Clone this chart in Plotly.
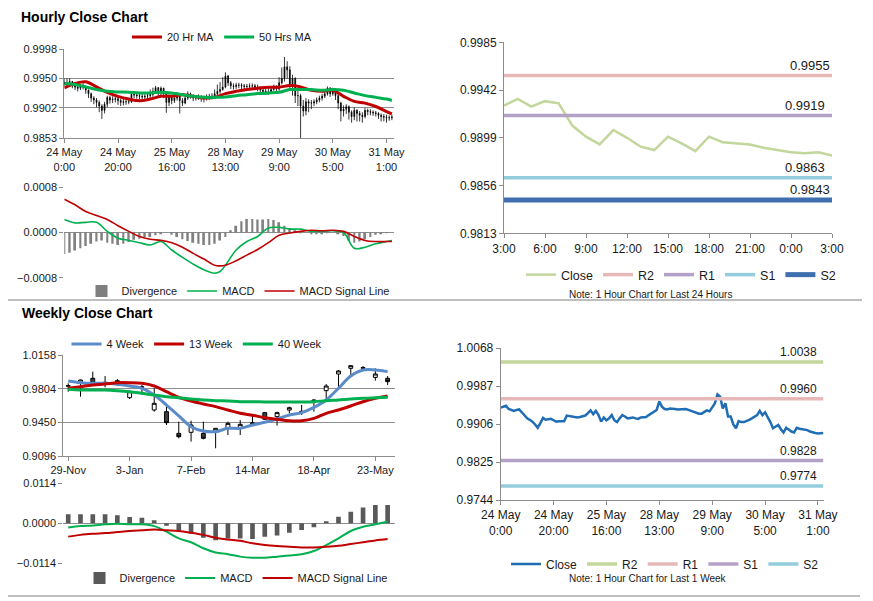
import plotly.graph_objects as go

# --- hourly data (24 May 0:00 -> 31 May 3:00, hour index) ---
hour_ticks = [0, 20, 40, 60, 80, 100, 120]
hour_labels = ["24 May<br>0:00", "24 May<br>20:00", "25 May<br>16:00", "28 May<br>13:00",
               "29 May<br>9:00", "30 May<br>5:00", "31 May<br>1:00"]

hourly_close = [
    0.9941, 0.9943, 0.9945, 0.9938, 0.9936, 0.9934, 0.9936, 0.9937, 0.9931, 0.9925,
    0.9918, 0.9915, 0.9911, 0.9905, 0.9898, 0.9908, 0.9919, 0.9915, 0.9916, 0.9917,
    0.9914, 0.9911, 0.9912, 0.9912, 0.9912, 0.9924, 0.9923, 0.9922, 0.9921, 0.9920,
    0.9921, 0.9922, 0.9924, 0.9929, 0.9935, 0.9927, 0.9934, 0.9925, 0.9911, 0.9920,
    0.9914, 0.9918, 0.9925, 0.9914, 0.9910, 0.9918, 0.9925, 0.9922, 0.9918, 0.9919,
    0.9920, 0.9918, 0.9917, 0.9920, 0.9921, 0.9921, 0.9925, 0.9929, 0.9932, 0.9936,
    0.9954, 0.9943, 0.9938, 0.9937, 0.9939, 0.9939, 0.9938, 0.9937, 0.9937, 0.9938,
    0.9938, 0.9936, 0.9934, 0.9931, 0.9929, 0.9928, 0.9928, 0.9932, 0.9935, 0.9933,
    0.9943, 0.9950, 0.9969, 0.9964, 0.9939, 0.9950, 0.9922, 0.9922, 0.9905, 0.9897,
    0.9912, 0.9910, 0.9910, 0.9912, 0.9915, 0.9918, 0.9921, 0.9925, 0.9934, 0.9925,
    0.9931, 0.9922, 0.9910, 0.9897, 0.9900, 0.9904, 0.9895, 0.9888, 0.9898, 0.9893,
    0.9890, 0.9888, 0.9898, 0.9896, 0.9895, 0.9894, 0.9893, 0.9890, 0.9888, 0.9887,
    0.9886, 0.9886, 0.9887,
]
hourly_high = [
    0.9950, 0.9950, 0.9950, 0.9946, 0.9942, 0.9940, 0.9941, 0.9942, 0.9938, 0.9932,
    0.9927, 0.9921, 0.9918, 0.9914, 0.9908, 0.9912, 0.9922, 0.9922, 0.9921, 0.9921,
    0.9920, 0.9917, 0.9917, 0.9916, 0.9918, 0.9927, 0.9928, 0.9927, 0.9926, 0.9925,
    0.9926, 0.9928, 0.9932, 0.9935, 0.9938, 0.9936, 0.9937, 0.9935, 0.9927, 0.9924,
    0.9922, 0.9921, 0.9928, 0.9926, 0.9918, 0.9922, 0.9929, 0.9927, 0.9924, 0.9923,
    0.9924, 0.9923, 0.9922, 0.9924, 0.9925, 0.9926, 0.9932, 0.9940, 0.9944, 0.9952,
    0.9960, 0.9956, 0.9946, 0.9942, 0.9943, 0.9943, 0.9942, 0.9941, 0.9941, 0.9942,
    0.9942, 0.9941, 0.9940, 0.9937, 0.9934, 0.9933, 0.9934, 0.9937, 0.9940, 0.9939,
    0.9952, 0.9968, 0.9985, 0.9978, 0.9970, 0.9956, 0.9952, 0.9930, 0.9925, 0.9915,
    0.9918, 0.9916, 0.9915, 0.9916, 0.9919, 0.9922, 0.9925, 0.9930, 0.9937, 0.9936,
    0.9935, 0.9934, 0.9925, 0.9912, 0.9906, 0.9908, 0.9906, 0.9898, 0.9903, 0.9900,
    0.9897, 0.9895, 0.9902, 0.9901, 0.9900, 0.9898, 0.9897, 0.9895, 0.9893, 0.9892,
    0.9891, 0.9890, 0.9891,
]
hourly_low = [
    0.9937, 0.9938, 0.9940, 0.9934, 0.9931, 0.9929, 0.9931, 0.9932, 0.9925, 0.9918,
    0.9912, 0.9908, 0.9903, 0.9895, 0.9884, 0.9893, 0.9903, 0.9909, 0.9910, 0.9911,
    0.9907, 0.9905, 0.9906, 0.9907, 0.9908, 0.9910, 0.9918, 0.9917, 0.9916, 0.9915,
    0.9916, 0.9917, 0.9918, 0.9920, 0.9925, 0.9922, 0.9922, 0.9918, 0.9894, 0.9905,
    0.9908, 0.9910, 0.9914, 0.9893, 0.9905, 0.9908, 0.9915, 0.9917, 0.9913, 0.9914,
    0.9915, 0.9912, 0.9911, 0.9914, 0.9915, 0.9916, 0.9918, 0.9922, 0.9925, 0.9930,
    0.9934, 0.9938, 0.9933, 0.9932, 0.9933, 0.9934, 0.9933, 0.9932, 0.9932, 0.9933,
    0.9933, 0.9931, 0.9929, 0.9926, 0.9924, 0.9923, 0.9923, 0.9926, 0.9930, 0.9928,
    0.9930, 0.9940, 0.9945, 0.9950, 0.9930, 0.9922, 0.9910, 0.9905, 0.9853, 0.9888,
    0.9890, 0.9895, 0.9900, 0.9905, 0.9908, 0.9911, 0.9914, 0.9918, 0.9922, 0.9920,
    0.9922, 0.9915, 0.9900, 0.9880, 0.9888, 0.9892, 0.9883, 0.9878, 0.9882, 0.9880,
    0.9880, 0.9878, 0.9885, 0.9890, 0.9890, 0.9889, 0.9888, 0.9884, 0.9880, 0.9880,
    0.9878, 0.9881, 0.9882,
]
hourly_open = [0.9944] + hourly_close[:-1]

ma_hours = [0, 4, 8, 12, 16, 20, 24, 28, 32, 36, 40, 44, 48, 52, 56, 60,
            64, 68, 72, 76, 80, 84, 88, 92, 96, 100, 104, 108, 112, 116, 120, 122]
ma20 = [0.99346, 0.99418, 0.99446, 0.99363, 0.99275, 0.99209, 0.99164, 0.99137,
        0.99164, 0.99209, 0.99209, 0.99236, 0.99209, 0.99181, 0.99192, 0.99253,
        0.99291, 0.99319, 0.99341, 0.99357, 0.99357, 0.99385, 0.99363, 0.99308,
        0.99291, 0.99308, 0.99209, 0.99126, 0.99098, 0.99043, 0.98961, 0.98922]
ma50 = [0.99418, 0.99401, 0.99363, 0.99319, 0.99291, 0.99280, 0.99275, 0.99264,
        0.99264, 0.99275, 0.99264, 0.99236, 0.99209, 0.99192, 0.99192, 0.99198,
        0.99220, 0.99236, 0.99253, 0.99264, 0.99275, 0.99319, 0.99319, 0.99319,
        0.99308, 0.99319, 0.99308, 0.99264, 0.99220, 0.99192, 0.99164, 0.99142]

macd_hours = [0, 4, 8, 12, 16, 20, 24, 28, 32, 36, 40, 44, 48, 52, 56, 58, 60,
              64, 68, 72, 76, 80, 84, 88, 92, 96, 100, 104, 108, 112, 116, 120, 122]
hourly_macd = [0.00023, 0.00017, 0.00018, 0.00018, 0.00002, -0.00010, -0.00014, -0.00018,
               -0.00022, -0.00016, -0.00031, -0.00044, -0.00056, -0.00066, -0.00072, -0.00069,
               -0.00058, -0.00031, -0.00016, -0.00007, 0.00008, 0.00009, 0.00006, 0.00006,
               0.00002, 0.00002, 0.00003, 0.00000, -0.00028, -0.00026, -0.00020, -0.00016, -0.00014]
hourly_signal = [0.00059, 0.00049, 0.00037, 0.00030, 0.00023, 0.00012, 0.00002, -0.00007,
                 -0.00012, -0.00014, -0.00018, -0.00026, -0.00037, -0.00047, -0.00058, -0.00059,
                 -0.00058, -0.00050, -0.00040, -0.00030, -0.00018, -0.00005, -0.00001, 0.00002,
                 0.00004, 0.00003, 0.00004, 0.00002, -0.00007, -0.00014, -0.00016, -0.00016, -0.00016]
div_hours = list(range(0, 123, 2))
hourly_div = [-0.00038, -0.00036, -0.00032, -0.00028, -0.00024, -0.00020, -0.00016, -0.00014,
              -0.00018, -0.00020, -0.00022, -0.00020, -0.00017, -0.00013, -0.00011, -0.00008,
              -0.00008, -0.00005, -0.00002, 0.00000, -0.00004, -0.00008, -0.00012, -0.00015,
              -0.00018, -0.00020, -0.00022, -0.00022, -0.00020, -0.00014, -0.00008, 0.00004,
              0.00012, 0.00020, 0.00024, 0.00024, 0.00023, 0.00023, 0.00024, 0.00022,
              0.00018, 0.00012, 0.00008, 0.00004, 0.00002, 0.00000, -0.00002, -0.00002,
              -0.00002, 0.00001, 0.00000, -0.00002, -0.00006, -0.00014, -0.00018, -0.00016,
              -0.00012, -0.00008, -0.00004, -0.00002, -0.00001, 0.00000]

# --- last 24 hours ---
day_ticks = [0, 3, 6, 9, 12, 15, 18, 21, 24]
day_labels = ["3:00", "6:00", "9:00", "12:00", "15:00", "18:00", "21:00", "0:00", "3:00"]
day_close = [0.9928, 0.9934, 0.9927, 0.9932, 0.9930, 0.9910, 0.9900, 0.9893, 0.9906,
             0.9899, 0.9891, 0.9888, 0.9900, 0.9894, 0.9887, 0.9900, 0.9895, 0.9894,
             0.9893, 0.9890, 0.9888, 0.9886, 0.9885, 0.9886, 0.9883]
day_levels = {"R2": 0.9955, "R1": 0.9919, "S1": 0.9863, "S2": 0.9843}
week_levels = {"R2": 1.0038, "R1": 0.9960, "S1": 0.9828, "S2": 0.9774}

# --- weekly data (29-Nov -> 30-May) ---
week_ticks = [0, 5, 10, 15, 20, 25]
week_labels = ["29-Nov", "3-Jan", "7-Feb", "14-Mar", "18-Apr", "23-May"]
weeks = list(range(27))
w_open = [0.9830, 0.9860, 0.9913, 0.9865, 0.9888, 0.9709, 0.9818, 0.9580, 0.9562, 0.9334,
          0.9345, 0.9334, 0.9352, 0.9387, 0.9394, 0.9436, 0.9552, 0.9510, 0.9579, 0.9562,
          0.9667, 0.9783, 0.9958, 1.0018, 1.0018, 0.9923, 0.9913]
w_high = [0.9860, 0.9900, 0.9983, 0.9937, 0.9905, 0.9785, 0.9843, 0.9808, 0.9643, 0.9457,
          0.9467, 0.9457, 0.9390, 0.9457, 0.9474, 0.9527, 0.9555, 0.9562, 0.9615, 0.9632,
          0.9692, 0.9853, 1.0000, 1.0048, 1.0042, 1.0018, 0.9937]
w_low = [0.9772, 0.9720, 0.9843, 0.9818, 0.9832, 0.9695, 0.9738, 0.9562, 0.9422, 0.9282,
         0.9247, 0.9271, 0.9177, 0.9317, 0.9317, 0.9422, 0.9475, 0.9415, 0.9545, 0.9527,
         0.9562, 0.9692, 0.9797, 0.9937, 0.9993, 0.9888, 0.9843]
w_close = [0.9835, 0.9895, 0.9860, 0.9870, 0.9860, 0.9772, 0.9822, 0.9650, 0.9446, 0.9299,
           0.9422, 0.9282, 0.9387, 0.9439, 0.9429, 0.9443, 0.9482, 0.9552, 0.9604, 0.9565,
           0.9685, 0.9832, 0.9990, 1.0046, 1.0025, 0.9958, 0.9878]
ma4w = [0.9885, 0.9867, 0.9860, 0.9860, 0.9850, 0.9832, 0.9808, 0.9737, 0.9632, 0.9517,
        0.9404, 0.9359, 0.9352, 0.9387, 0.9387, 0.9422, 0.9450, 0.9485, 0.9527, 0.9552,
        0.9608, 0.9685, 0.9808, 0.9937, 1.0000, 1.0000, 0.9983]
ma13w = [0.9808, 0.9825, 0.9843, 0.9853, 0.9867, 0.9867, 0.9860, 0.9832, 0.9772, 0.9713,
         0.9674, 0.9643, 0.9615, 0.9580, 0.9545, 0.9524, 0.9499, 0.9482, 0.9467, 0.9467,
         0.9492, 0.9545, 0.9580, 0.9622, 0.9667, 0.9702, 0.9727]
ma40w = [0.9797, 0.9790, 0.9790, 0.9790, 0.9783, 0.9772, 0.9755, 0.9737, 0.9720, 0.9709,
         0.9695, 0.9685, 0.9678, 0.9674, 0.9667, 0.9667, 0.9664, 0.9664, 0.9664, 0.9664,
         0.9667, 0.9678, 0.9685, 0.9695, 0.9702, 0.9709, 0.9713]
w_div = [0.0026, 0.0026, 0.0026, 0.0026, 0.0023, 0.0018, 0.0016, 0.0009, -0.0007, -0.0021,
         -0.0029, -0.0041, -0.0048, -0.0043, -0.0043, -0.0045, -0.0038, -0.0035, -0.0027,
         -0.0019, -0.0011, 0.0003, 0.0019, 0.0033, 0.0045, 0.0052, 0.0052]
w_macd = [-0.0012, -0.0008, -0.0006, -0.0003, -0.0001, -0.0003, -0.0003, -0.0008, -0.0024,
          -0.0043, -0.0054, -0.0071, -0.0083, -0.0088, -0.0095, -0.0098, -0.0098, -0.0095,
          -0.0092, -0.0088, -0.0079, -0.0062, -0.0043, -0.0022, -0.0010, -0.0003, 0.0005]
w_signal = [-0.0038, -0.0033, -0.0030, -0.0028, -0.0025, -0.0022, -0.0020, -0.0018, -0.0020,
            -0.0022, -0.0027, -0.0033, -0.0041, -0.0046, -0.0050, -0.0057, -0.0062, -0.0065,
            -0.0067, -0.0069, -0.0069, -0.0067, -0.0064, -0.0059, -0.0054, -0.0049, -0.0045]

FONT = "Liberation Sans, Arial, sans-serif"
GRID = "#8c8c8c"
RED = "#c00000"
GREEN = "#00b050"
TXT = "#1a1a1a"

# the page body has an 8px margin, so the figure is 8px smaller and everything
# is placed in page pixels minus that offset
OFF = 8
W, H = 873 - OFF, 601 - OFF
def px_x(p):
    return (p - OFF) / W
def px_y(p):
    return 1 - (p - OFF) / H

fig = go.Figure()

# ---------- top-left: hourly candles + MAs ----------
fig.add_trace(go.Candlestick(
    x=list(range(len(hourly_close))), open=hourly_open, high=hourly_high,
    low=hourly_low, close=hourly_close, xaxis="x", yaxis="y",
    increasing=dict(line=dict(color="black", width=0.8), fillcolor="black"),
    decreasing=dict(line=dict(color="black", width=0.8), fillcolor="black"),
    whiskerwidth=0, showlegend=False, hoverinfo="skip"))
fig.add_trace(go.Scatter(x=ma_hours, y=ma20, mode="lines", name="20 Hr MA",
                         line=dict(color=RED, width=3, shape="spline"),
                         xaxis="x", yaxis="y", legend="legend"))
fig.add_trace(go.Scatter(x=ma_hours, y=ma50, mode="lines", name="50 Hrs MA",
                         line=dict(color=GREEN, width=3, shape="spline"),
                         xaxis="x", yaxis="y", legend="legend"))

# ---------- top-left: hourly MACD ----------
fig.add_trace(go.Bar(x=div_hours, y=hourly_div, name="Divergence", width=0.7,
                     marker=dict(color="#7f7f7f", line=dict(width=0)),
                     xaxis="x2", yaxis="y2", legend="legend2"))
fig.add_trace(go.Scatter(x=macd_hours, y=hourly_macd, mode="lines", name="MACD",
                         line=dict(color=GREEN, width=1.6, shape="spline"),
                         xaxis="x2", yaxis="y2", legend="legend2"))
fig.add_trace(go.Scatter(x=macd_hours, y=hourly_signal, mode="lines", name="MACD Signal Line",
                         line=dict(color=RED, width=1.6, shape="spline"),
                         xaxis="x2", yaxis="y2", legend="legend2"))

# ---------- top-right: last 24 hours with levels ----------
day_x = list(range(len(day_close)))
fig.add_trace(go.Scatter(x=day_x, y=day_close, mode="lines", name="Close",
                         line=dict(color="#c3d69b", width=2.5),
                         xaxis="x3", yaxis="y3", legend="legend3"))
day_colors = {"R2": "#e6b9b8", "R1": "#b3a2c7", "S1": "#93cddd", "S2": "#3f6fae"}
day_widths = {"R2": 3.5, "R1": 3.5, "S1": 3.5, "S2": 5}
for k, v in day_levels.items():
    fig.add_trace(go.Scatter(x=[day_x[0], day_x[-1]], y=[v, v], mode="lines", name=k,
                             line=dict(color=day_colors[k], width=day_widths[k]),
                             xaxis="x3", yaxis="y3", legend="legend3"))

# ---------- bottom-left: weekly candles + MAs ----------
fig.add_trace(go.Candlestick(
    x=weeks, open=w_open, high=w_high, low=w_low, close=w_close,
    xaxis="x4", yaxis="y4",
    increasing=dict(line=dict(color="black", width=1), fillcolor="white"),
    decreasing=dict(line=dict(color="black", width=1), fillcolor="#404040"),
    whiskerwidth=0, showlegend=False, hoverinfo="skip"))
fig.add_trace(go.Scatter(x=weeks, y=ma4w, mode="lines", name="4 Week",
                         line=dict(color="#5b8bc9", width=3, shape="spline"),
                         xaxis="x4", yaxis="y4", legend="legend4"))
fig.add_trace(go.Scatter(x=weeks, y=ma13w, mode="lines", name="13 Week",
                         line=dict(color=RED, width=3, shape="spline"),
                         xaxis="x4", yaxis="y4", legend="legend4"))
fig.add_trace(go.Scatter(x=weeks, y=ma40w, mode="lines", name="40 Week",
                         line=dict(color=GREEN, width=3, shape="spline"),
                         xaxis="x4", yaxis="y4", legend="legend4"))

# ---------- bottom-left: weekly MACD ----------
fig.add_trace(go.Bar(x=weeks, y=w_div, name="Divergence", width=0.38,
                     marker=dict(color="#595959", line=dict(width=0)),
                     xaxis="x5", yaxis="y5", legend="legend5"))
fig.add_trace(go.Scatter(x=weeks, y=w_macd, mode="lines", name="MACD",
                         line=dict(color=GREEN, width=2, shape="spline"),
                         xaxis="x5", yaxis="y5", legend="legend5"))
fig.add_trace(go.Scatter(x=weeks, y=w_signal, mode="lines", name="MACD Signal Line",
                         line=dict(color=RED, width=2, shape="spline"),
                         xaxis="x5", yaxis="y5", legend="legend5"))

# ---------- bottom-right: last week with levels ----------
fig.add_trace(go.Scatter(x=list(range(len(hourly_close))), y=hourly_close, mode="lines",
                         name="Close", line=dict(color="#1f6db5", width=2.5),
                         xaxis="x6", yaxis="y6", legend="legend6"))
week_colors = {"R2": "#c3d69b", "R1": "#e6b9b8", "S1": "#b3a2c7", "S2": "#93cddd"}
for k, v in week_levels.items():
    fig.add_trace(go.Scatter(x=[0, len(hourly_close) - 1], y=[v, v], mode="lines", name=k,
                             line=dict(color=week_colors[k], width=3.5),
                             xaxis="x6", yaxis="y6", legend="legend6"))

# ---------- axes ----------
tick_font = dict(family=FONT, size=11, color=TXT)
right_font = dict(family=FONT, size=12, color=TXT)

def xax(domain, rng, tickvals=None, ticktext=None, anchor=None, show=True, font=tick_font):
    d = dict(domain=domain, range=rng, anchor=anchor, showgrid=False, zeroline=False,
             rangeslider=dict(visible=False), fixedrange=True)
    if show:
        d.update(tickvals=tickvals, ticktext=ticktext, ticks="outside", ticklen=4,
                 tickcolor=GRID, showline=True, linecolor=GRID, linewidth=1, tickfont=font)
    else:
        d.update(showticklabels=False, showline=False, ticks="")
    return d

def yax(domain, rng, tickvals, anchor, grid=True, line=True, font=tick_font):
    return dict(domain=domain, range=rng, anchor=anchor, tickvals=tickvals,
                tickformat=".4f", showgrid=grid, gridcolor=GRID, gridwidth=1,
                zeroline=False, showline=line, linecolor=GRID, linewidth=1,
                ticks="outside", ticklen=4, tickcolor=GRID, tickfont=font, fixedrange=True)

legend_common = dict(orientation="h", bgcolor="rgba(0,0,0,0)", xanchor="center",
                     yanchor="middle", itemwidth=30, font=dict(family=FONT, size=11, color=TXT),
                     tracegroupgap=0)

fig.update_layout(
    width=W, height=H,
    margin=dict(l=0, r=0, t=0, b=0, autoexpand=False),
    paper_bgcolor="white", plot_bgcolor="white",
    font=dict(family=FONT, size=11, color=TXT),
    boxgap=0.55,
    xaxis=xax([px_x(64.3), px_x(394.3)], [0, 122.9], hour_ticks, hour_labels, anchor="y"),
    yaxis=yax([px_y(138), px_y(49)], [0.9853, 0.9998], [0.9853, 0.9902, 0.9950, 0.9998], "x"),
    xaxis2=xax([px_x(64.3), px_x(394.3)], [0, 122.9], anchor="y2", show=False),
    yaxis2=yax([px_y(277.7), px_y(187.3)], [-0.0008, 0.0008], [-0.0008, 0.0, 0.0008], "x2", line=False),
    xaxis3=xax([px_x(504), px_x(832)], [0, 24], day_ticks, day_labels, anchor="y3", font=right_font),
    yaxis3=yax([px_y(233.3), px_y(42.3)], [0.9813, 0.9985],
               [0.9813, 0.9856, 0.9899, 0.9942, 0.9985], "x3", grid=False, font=right_font),
    xaxis4=xax([px_x(63.3), px_x(395)], [-0.4, 26.6], week_ticks, week_labels, anchor="y4"),
    yaxis4=yax([px_y(456), px_y(355)], [0.9096, 1.0158], [0.9096, 0.9450, 0.9804, 1.0158], "x4"),
    xaxis5=xax([px_x(63.3), px_x(395)], [-0.4, 26.6], anchor="y5", show=False),
    yaxis5=yax([px_y(563.3), px_y(483.3)], [-0.0114, 0.0114], [-0.0114, 0.0, 0.0114], "x5", line=False),
    xaxis6=xax([px_x(500.7), px_x(824)], [0, 122.3], hour_ticks, hour_labels, anchor="y6",
               font=right_font),
    yaxis6=yax([px_y(500), px_y(348)], [0.9744, 1.0068],
               [0.9744, 0.9825, 0.9906, 0.9987, 1.0068], "x6", grid=False, font=right_font),
    legend=dict(legend_common, x=px_x(222), y=px_y(37)),
    legend2=dict(legend_common, x=px_x(238), y=px_y(291)),
    legend3=dict(legend_common, x=px_x(681), y=px_y(275),
                 font=dict(family=FONT, size=12.5, color=TXT)),
    legend4=dict(legend_common, x=px_x(197), y=px_y(344)),
    legend5=dict(legend_common, x=px_x(236), y=px_y(578)),
    legend6=dict(legend_common, x=px_x(665), y=px_y(564),
                 font=dict(family=FONT, size=12, color=TXT)),
    showlegend=True,
)

# ---------- text and separators ----------
fig.add_annotation(text="<b>Hourly Close Chart</b>", xref="paper", yref="paper",
                   x=px_x(20), y=1, xanchor="left", yanchor="top", showarrow=False,
                   borderpad=0, font=dict(family=FONT, size=14, color="black"))
fig.add_annotation(text="<b>Weekly Close Chart</b>", xref="paper", yref="paper",
                   x=px_x(20), y=px_y(313), xanchor="left", yanchor="middle", showarrow=False,
                   font=dict(family=FONT, size=14, color="black"))

fig.add_annotation(text="Note: 1 Hour Chart for Last 24 Hours", xref="paper", yref="paper",
                   x=px_x(650), y=px_y(295), showarrow=False, xanchor="center", yanchor="middle",
                   font=dict(family=FONT, size=10, color=TXT))
fig.add_annotation(text="Note: 1 Hour Chart for Last 1 Week", xref="paper", yref="paper",
                   x=px_x(648), y=px_y(578), showarrow=False, xanchor="center", yanchor="middle",
                   font=dict(family=FONT, size=10, color=TXT))

day_label_x = {"R2": 1.0, "R1": 0.985, "S1": 0.985, "S2": 1.0}
for k, v in day_levels.items():
    fig.add_annotation(text=f"{v:.4f}", xref="x3 domain", yref="y3", x=day_label_x[k], y=v,
                       xanchor="right", yanchor="bottom", yshift=1, showarrow=False,
                       font=dict(family=FONT, size=13, color=TXT))
for k, v in week_levels.items():
    fig.add_annotation(text=f"{v:.4f}", xref="x6 domain", yref="y6", x=0.985, y=v,
                       xanchor="right", yanchor="bottom", yshift=1, showarrow=False,
                       font=dict(family=FONT, size=12, color=TXT))

fig.add_shape(type="line", xref="paper", yref="paper", x0=0, x1=px_x(862),
              y0=px_y(300), y1=px_y(300), line=dict(color="#7f7f7f", width=1))
fig.add_shape(type="line", xref="paper", yref="paper", x0=0, x1=px_x(860),
              y0=px_y(596), y1=px_y(596), line=dict(color="#7f7f7f", width=1))

fig.write_html("out.html")
